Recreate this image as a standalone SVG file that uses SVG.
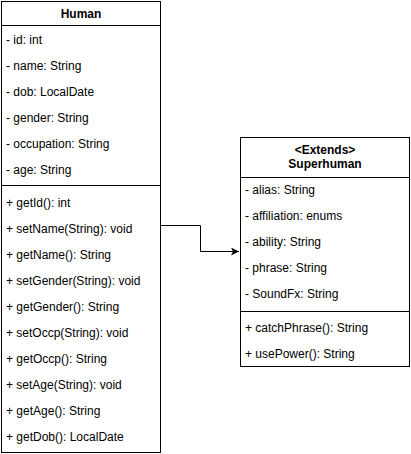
<svg xmlns="http://www.w3.org/2000/svg" width="411" height="454" viewBox="0 0 411 454">
<style>
.box{fill:#fff;stroke:#000;stroke-width:1}
.ln{stroke:#000;stroke-width:1;fill:none}
text{font-family:"Liberation Sans",Arial,Helvetica,sans-serif;font-size:12px;fill:#000}
.t{font-weight:bold;text-anchor:middle}
</style>
<defs>
<marker id="arr" markerWidth="10" markerHeight="10" refX="8" refY="4" orient="auto" markerUnits="userSpaceOnUse">
<path d="M0,0 L8,4 L0,8 L2,4 Z" fill="#000"/>
</marker>
</defs>
<rect width="411" height="454" fill="#fff"/>
<g id="human">
<rect class="box" x="1.5" y="1.5" width="159" height="451"/>
<line class="ln" x1="1.5" y1="25.5" x2="160.5" y2="25.5"/>
<text class="t" x="81" y="18">Human</text>
<text x="6" y="44">- id: int</text>
<text x="6" y="70">- name: String</text>
<text x="6" y="96">- dob: LocalDate</text>
<text x="6" y="122">- gender: String</text>
<text x="6" y="148">- occupation: String</text>
<text x="6" y="174">- age: String</text>
<line class="ln" x1="1.5" y1="185.5" x2="160.5" y2="185.5"/>
<text x="6" y="207">+ getId(): int</text>
<text x="6" y="233">+ setName(String): void</text>
<text x="6" y="259">+ getName(): String</text>
<text x="6" y="285">+ setGender(String): void</text>
<text x="6" y="311">+ getGender(): String</text>
<text x="6" y="337">+ setOccp(String): void</text>
<text x="6" y="363">+ getOccp(): String</text>
<text x="6" y="389">+ setAge(String): void</text>
<text x="6" y="415">+ getAge(): String</text>
<text x="6" y="441">+ getDob(): LocalDate</text>
</g>
<g id="superhuman">
<rect class="box" x="240.5" y="137.5" width="169" height="229"/>
<line class="ln" x1="240.5" y1="177.5" x2="409.5" y2="177.5"/>
<text class="t" x="325" y="154">&lt;Extends&gt;</text>
<text class="t" x="325" y="168">Superhuman</text>
<text x="245" y="194">- alias: String</text>
<text x="245" y="220">- affiliation: enums</text>
<text x="245" y="246">- ability: String</text>
<text x="245" y="272">- phrase: String</text>
<text x="245" y="298">- SoundFx: String</text>
<line class="ln" x1="240.5" y1="311.5" x2="409.5" y2="311.5"/>
<text x="245" y="332">+ catchPhrase(): String</text>
<text x="245" y="358">+ usePower(): String</text>
</g>
<g id="connectors">
<path class="ln" d="M160.5,225.5 H200.5 V251.5 H239" marker-end="url(#arr)"/>
</g>
</svg>
